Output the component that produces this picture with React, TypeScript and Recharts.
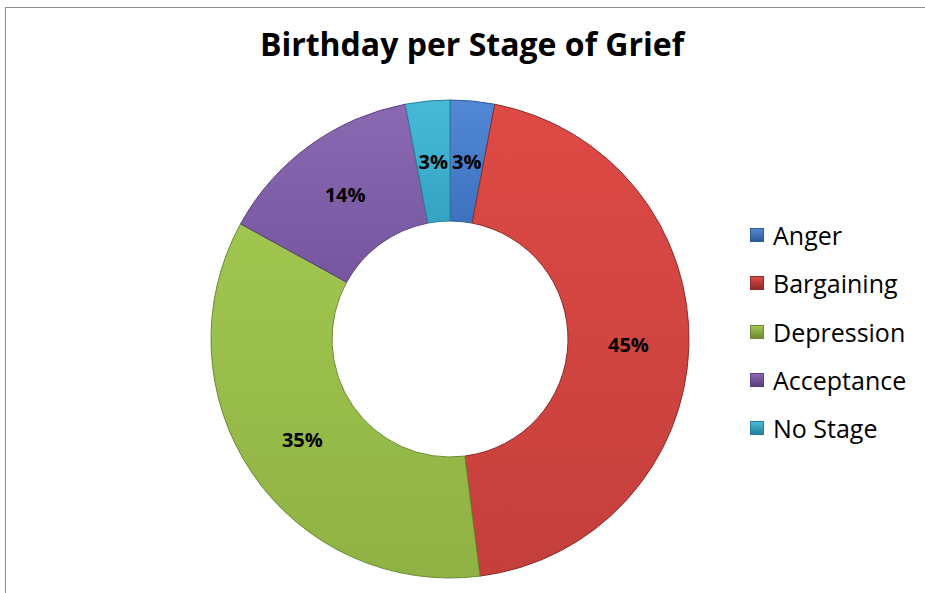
import React from 'react';
import { PieChart, Pie, Cell } from 'recharts';

const stages = ['Anger', 'Bargaining', 'Depression', 'Acceptance', 'No Stage'];
const shares = [3, 45, 35, 14, 3];
const topColors = ['#5288d6', '#de4a45', '#a0c64f', '#8a68b2', '#47bad8'];
const baseColors = ['#3e72bf', '#c43f3c', '#8fb244', '#7656a0', '#35a3c2'];
const edgeColors = ['#2f5a99', '#8e2b29', '#6b8a31', '#5a3f7c', '#26809a'];

const data = stages.map((name, i) => ({ name, value: shares[i] }));

const RADIAN = Math.PI / 180;

const renderLabel = (props: any) => {
  const { cx, cy, midAngle, innerRadius, outerRadius, value } = props;
  const r = (innerRadius + outerRadius) / 2;
  const x = cx + r * Math.cos(-midAngle * RADIAN);
  const y = cy + r * Math.sin(-midAngle * RADIAN);
  return (
    <text
      x={x}
      y={y}
      textAnchor="middle"
      dominantBaseline="central"
      fill="#000"
      fontSize={20}
      fontWeight="bold"
      fontFamily="'Open Sans', sans-serif"
    >
      {`${value}%`}
    </text>
  );
};

// legend drawn straight from the stage list so the order stays as in the data
const StageLegend = () => (
  <div
    style={{
      position: 'absolute',
      left: 750,
      top: 211,
      fontFamily: "'Open Sans', sans-serif",
      fontSize: 25,
      color: '#000',
    }}
  >
    {stages.map((s, i) => (
      <div key={s} style={{ display: 'flex', alignItems: 'center', height: 48.25 }}>
        <span
          style={{
            display: 'inline-block',
            width: 14,
            height: 14,
            marginRight: 9,
            background: `linear-gradient(${topColors[i]}, ${edgeColors[i]})`,
            border: `1px solid ${edgeColors[i]}`,
            boxSizing: 'border-box',
          }}
        />
        <span>{s}</span>
      </div>
    ))}
  </div>
);

export default function App() {
  return (
    <div style={{ position: 'absolute', left: 0, top: 0, width: 925, height: 593, background: '#fff' }}>
      <div
        style={{
          position: 'absolute',
          left: 5,
          top: 7,
          width: 930,
          height: 600,
          borderTop: '1px solid #8c8c8c',
          borderLeft: '1px solid #8c8c8c',
        }}
      />
      <div
        style={{
          position: 'absolute',
          left: 0,
          top: 22,
          width: 944,
          textAlign: 'center',
          fontFamily: "'Open Sans', sans-serif",
          fontWeight: 'bold',
          fontSize: 32,
          color: '#000',
        }}
      >
        Birthday per Stage of Grief
      </div>
      <PieChart width={925} height={593} style={{ position: 'absolute', left: 0, top: 0 }}>
        <defs>
          {stages.map((s, i) => (
            <linearGradient key={s} id={`grad${i}`} x1="0" y1="0" x2="0" y2="1">
              <stop offset="0%" stopColor={topColors[i]} />
              <stop offset="100%" stopColor={baseColors[i]} />
            </linearGradient>
          ))}
        </defs>
        <Pie
          data={data}
          dataKey="value"
          nameKey="name"
          cx={445}
          cy={334}
          innerRadius={118}
          outerRadius={239}
          startAngle={90}
          endAngle={-270}
          label={renderLabel}
          labelLine={false}
          isAnimationActive={false}
        >
          {data.map((d, i) => (
            <Cell key={d.name} fill={`url(#grad${i})`} stroke={edgeColors[i]} strokeWidth={1} />
          ))}
        </Pie>
      </PieChart>
      <StageLegend />
    </div>
  );
}
